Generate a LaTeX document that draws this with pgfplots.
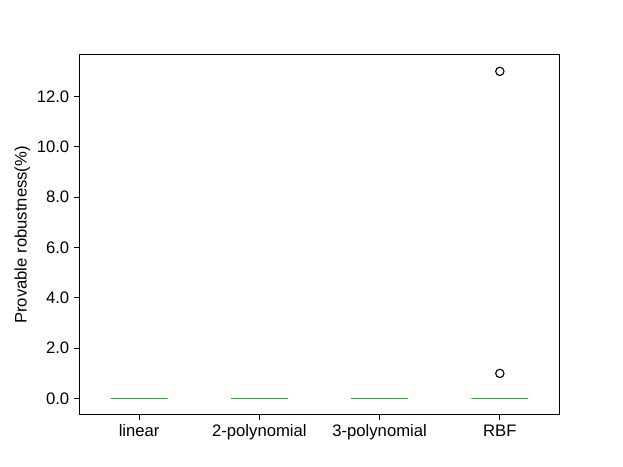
\documentclass[border=0pt]{standalone}
\usepackage{pgfplots}
\pgfplotsset{compat=1.18}
\usepgfplotslibrary{statistics}
\usepackage{fontspec}
\setmainfont{Liberation Sans}
\definecolor{mgreen}{HTML}{2CA02C}
\begin{document}
\begin{tikzpicture}
\path (-56.9pt,-37.4pt) rectangle (391.7pt,298.8pt);
\begin{axis}[
  at={(0,0)}, anchor=south west,
  scale only axis, width=346.3pt, height=259.2pt,
  xmin=0.5, xmax=4.5, ymin=-0.65, ymax=13.65,
  xtick={1,2,3,4},
  xticklabels={linear,2-polynomial,3-polynomial,RBF},
  ytick={0,2,4,6,8,10,12},
  yticklabel style={/pgf/number format/.cd,fixed,fixed zerofill,precision=1},
  /pgf/number format/assume math mode=true,
  tick align=outside, tick pos=left,
  major tick length=3.5pt,
  tick style={black, line width=0.7pt},
  axis line style={line width=0.7pt},
  ylabel={Provable robustness(\%)},
  ylabel style={yshift=-2pt},
  font=\fontsize{12}{14}\selectfont,
  tick label style={font=\fontsize{12}{14}\selectfont},
  boxplot/draw direction=y,
  boxplot/box extend=0.47,
]
\addplot+[black, line width=0.8pt, mark=o, mark size=3pt, mark options={black, line width=0.8pt},
  boxplot prepared={draw position=1, median=0, lower quartile=0, upper quartile=0, lower whisker=0, upper whisker=0},
  boxplot/every median/.style={mgreen, line width=1pt}] coordinates {};
\addplot+[black, line width=0.8pt, mark=o, mark size=3pt, mark options={black, line width=0.8pt},
  boxplot prepared={draw position=2, median=0, lower quartile=0, upper quartile=0, lower whisker=0, upper whisker=0},
  boxplot/every median/.style={mgreen, line width=1pt}] coordinates {};
\addplot+[black, line width=0.8pt, mark=o, mark size=3pt, mark options={black, line width=0.8pt},
  boxplot prepared={draw position=3, median=0, lower quartile=0, upper quartile=0, lower whisker=0, upper whisker=0},
  boxplot/every median/.style={mgreen, line width=1pt}] coordinates {};
\addplot+[black, line width=0.8pt, mark=o, mark size=3pt, mark options={black, line width=0.8pt},
  boxplot prepared={draw position=4, median=0, lower quartile=0, upper quartile=0, lower whisker=0, upper whisker=0},
  boxplot/every median/.style={mgreen, line width=1pt}] coordinates {(0,13) (0,1)};
\end{axis}
\end{tikzpicture}
\end{document}
